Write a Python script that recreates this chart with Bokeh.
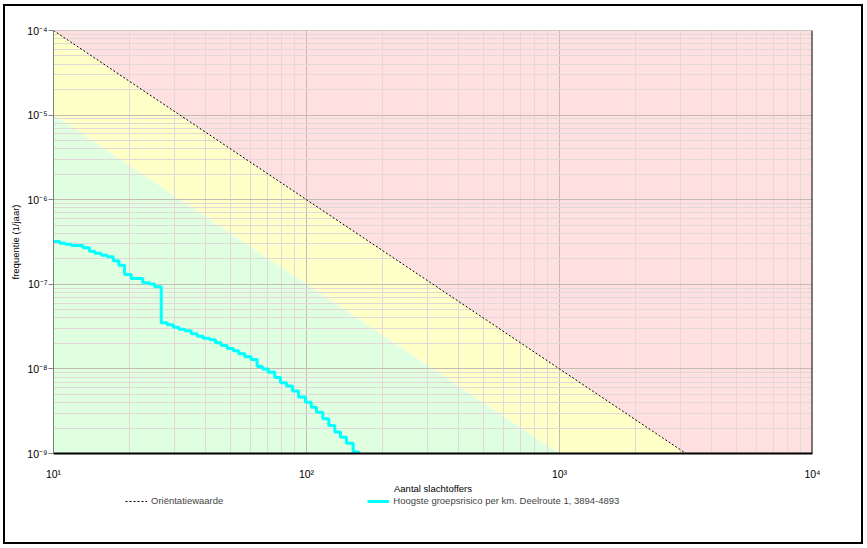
from bokeh.plotting import figure
from bokeh.layouts import column
from bokeh.models import (Range1d, FixedTicker, CustomJSTickFormatter, Span,
                          Legend, LegendItem)
from bokeh.embed import file_html
from bokeh.resources import INLINE

# ---- data ----
x_min, x_max = 10, 1e4
y_min, y_max = 1e-9, 1e-4

x_decades = [10, 100, 1000, 10000]
y_decades = [1e-9, 1e-8, 1e-7, 1e-6, 1e-5, 1e-4]
mantissas = [2, 3, 4, 5, 6, 7, 8, 9]

# Oriëntatiewaarde (norm line)
orient_N = [10, 100, 1000, 3162.28]
orient_f = [1e-4, 1e-6, 1e-8, 1e-9]
# boundary green / yellow (0.1 x norm)
lower_N = [10, 100, 1000]
lower_f = [1e-5, 1e-7, 1e-9]

# Hoogste groepsrisico per km (step curve)
risk_N = [10.0, 10.59, 11.15, 11.78, 13.06, 13.88, 14.56, 15.43, 16.31, 17.22,
          18.12, 19.09, 20.28, 22.54, 23.95, 25.14, 26.66, 28.15, 29.73, 31.29,
          33.04, 35.02, 36.98, 39.05, 41.47, 43.68, 46.01, 48.59, 51.32, 54.00,
          57.03, 60.44, 63.83, 67.00, 70.57, 74.93, 78.93, 83.35, 88.04, 92.98,
          99.1, 104.4, 109.5, 116.0, 122.5, 129.4, 136.3, 143.9, 152.9, 160.9]
risk_f = [3.21e-7, 3.06e-7, 2.98e-7, 2.87e-7, 2.70e-7, 2.46e-7, 2.33e-7, 2.21e-7,
          2.11e-7, 1.90e-7, 1.68e-7, 1.31e-7, 1.17e-7, 1.04e-7, 1.01e-7, 9.34e-8,
          3.51e-8, 3.32e-8, 3.11e-8, 2.94e-8, 2.82e-8, 2.60e-8, 2.44e-8, 2.31e-8,
          2.21e-8, 2.04e-8, 1.89e-8, 1.74e-8, 1.64e-8, 1.51e-8, 1.39e-8, 1.29e-8,
          1.07e-8, 1.00e-8, 9.14e-9, 7.91e-9, 6.85e-9, 6.28e-9, 5.48e-9, 4.66e-9,
          4.04e-9, 3.52e-9, 3.08e-9, 2.57e-9, 2.14e-9, 1.79e-9, 1.56e-9, 1.32e-9,
          1.04e-9, 8.0e-10]

x_label = "Aantal slachtoffers"
y_label = "frequentie (1/jaar)"
legend_orient = "Oriëntatiewaarde"
legend_risk = "Hoogste groepsrisico per km. Deelroute 1, 3894-4893"

FONT = "Liberation Sans"
ORIENT_STYLE = dict(line_color="black", line_width=1, line_dash="2 2")
RISK_STYLE = dict(line_color="#00FFFF", line_width=3)

p = figure(frame_width=759, frame_height=423,
           x_axis_type="log", y_axis_type="log",
           x_range=Range1d(x_min, x_max), y_range=Range1d(y_min, y_max),
           output_backend="svg", toolbar_location=None,
           min_border_left=48, min_border_right=49,
           min_border_top=24, min_border_bottom=40)
p.outline_line_color = None
p.background_fill_color = "white"

# ---- zones ----
red_x = [orient_N[0], x_max, x_max] + orient_N[::-1]
red_y = [y_max, y_max, y_min] + orient_f[::-1]
yel_x = orient_N + lower_N[::-1]
yel_y = orient_f + lower_f[::-1]
grn_x = lower_N + [x_min]
grn_y = lower_f + [y_min]

p.patch(red_x, red_y, fill_color="#FFE0E0", line_color=None, level="image")
p.patch(yel_x, yel_y, fill_color="#FFFFC8", line_color=None, level="image")
p.patch(grn_x, grn_y, fill_color="#E0FFE0", line_color=None, level="image")

# ---- lines ----
p.line(orient_N, orient_f, **ORIENT_STYLE)
p.step(risk_N, risk_f, mode="after", **RISK_STYLE)

# ---- axes / grid ----
x_minor = [m * d for d in x_decades[:-1] for m in mantissas]
y_minor = [m * d for d in y_decades[:-1] for m in mantissas]
p.xaxis.ticker = FixedTicker(ticks=x_decades, minor_ticks=x_minor)
p.yaxis.ticker = FixedTicker(ticks=y_decades, minor_ticks=y_minor)

fmt = CustomJSTickFormatter(code="""
const sup = {"-":"\u207b","0":"\u2070","1":"\u00b9","2":"\u00b2","3":"\u00b3",
             "4":"\u2074","5":"\u2075","6":"\u2076","7":"\u2077","8":"\u2078","9":"\u2079"};
const e = Math.round(Math.log10(tick));
return "10" + String(e).split("").map(c => sup[c]).join("");
""")
p.xaxis.formatter = fmt
p.yaxis.formatter = fmt

for ax in (p.xaxis[0], p.yaxis[0]):
    ax.major_label_text_font = FONT
    ax.major_label_text_font_size = "10.5px"
    ax.major_label_text_color = "black"
    ax.axis_label_text_font = FONT
    ax.axis_label_text_font_size = "9.5px"
    ax.axis_label_text_font_style = "normal"
    ax.axis_label_text_color = "black"
    ax.minor_tick_out = 0
    ax.minor_tick_in = 0
    ax.major_tick_in = 0

p.xaxis.axis_label = x_label
p.xaxis.major_tick_out = 0
p.xaxis.major_label_standoff = 14
p.xaxis.axis_label_standoff = 0
p.xaxis.axis_line_color = "black"
p.xaxis.axis_line_width = 2

p.yaxis.axis_label = y_label
p.yaxis.major_tick_out = 5
p.yaxis.major_tick_line_color = "#808080"
p.yaxis.major_label_standoff = 1
p.yaxis.axis_label_standoff = 3
p.yaxis.axis_line_color = "#808080"

for g in (p.xgrid[0], p.ygrid[0]):
    g.grid_line_color = "#C4BCB4"
    g.minor_grid_line_color = "#E2D8D8"
    g.level = "underlay"

p.add_layout(Span(location=y_max, dimension="width", line_color="#A09890",
                  line_width=1))
p.add_layout(Span(location=x_max, dimension="height", line_color="black",
                  line_width=2))

# ---- legend strip below (proxy renderers lie outside its 0..1 ranges) ----
LH = 46
lp = figure(width=856, height=LH, output_backend="svg", toolbar_location=None,
            x_range=Range1d(0, 1), y_range=Range1d(0, 1),
            x_axis_location=None, y_axis_location=None,
            min_border_left=0, min_border_right=0,
            min_border_top=0, min_border_bottom=0)
lp.grid.visible = False
lp.outline_line_color = None
l_orient = lp.line(orient_N, orient_f, **ORIENT_STYLE)
l_risk = lp.line(risk_N, risk_f, **RISK_STYLE)

leg = Legend(items=[LegendItem(label=legend_orient, renderers=[l_orient]),
                    LegendItem(label=legend_risk, renderers=[l_risk])],
             orientation="horizontal", location=(72, LH - 10))
leg.padding = 0
leg.margin = 0
leg.spacing = 144
leg.glyph_width = 22
leg.glyph_height = 10
leg.label_height = 10
leg.label_standoff = 4
leg.label_text_font = FONT
leg.label_text_font_size = "9.5px"
leg.background_fill_alpha = 0
leg.border_line_color = None
lp.add_layout(leg)

layout = column(p, lp)
layout.styles = {"margin": "6px 0 0 5px", "outline": "2px solid black"}

open("out.html", "w").write(file_html(layout, INLINE))
